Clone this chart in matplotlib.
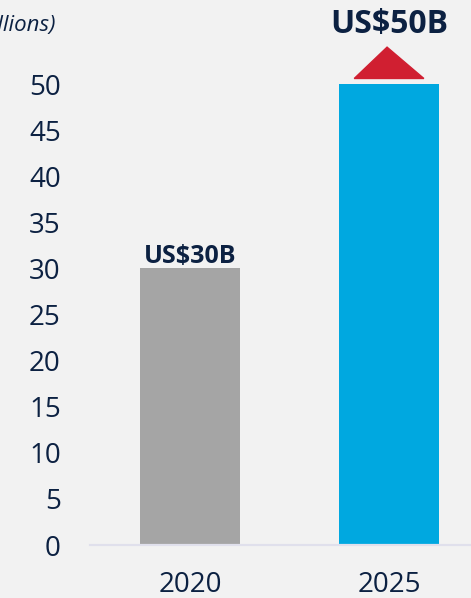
import matplotlib.pyplot as plt
from matplotlib.patches import Polygon

plt.rcParams['font.family'] = ['Open Sans', 'DejaVu Sans']

years = ["2020", "2025"]
values = [30, 50]
labels = ["US$30B", "US$50B"]
bar_colors = ["#a5a5a5", "#00a8e0"]
yticks = list(range(0, 55, 5))

navy = "#0c2142"
bg = "#f2f2f2"

fig = plt.figure(figsize=(4.71, 5.98), dpi=100, facecolor=bg)
ax = fig.add_axes([0.1911, 0.0886, 0.809, 0.7709], facecolor=bg)

x = list(range(len(years)))
bars = ax.bar(x, values, width=0.5, color=bar_colors, zorder=2)

ax.set_xlim(-0.5025, 1.412)
ax.set_ylim(0, 50)
ax.set_yticks(yticks)
ax.set_xticks(x)
ax.set_xticklabels(years)
ax.tick_params(axis="y", length=0, pad=21, labelsize=20, labelcolor=navy)
ax.tick_params(axis="x", length=0, pad=19, labelsize=20, labelcolor=navy)

for side in ["top", "right", "left"]:
    ax.spines[side].set_visible(False)
ax.spines["bottom"].set_color("#e0e0ec")
ax.spines["bottom"].set_linewidth(1.6)
ax.spines["bottom"].set_zorder(3)

# value labels
ax.text(x[0], values[0] + 0.55, labels[0], ha="center", va="baseline",
        fontsize=18, fontweight="bold", color=navy)

# growth arrow above the 2025 bar
tri_w = 0.35
tri = Polygon([(x[1] - tri_w / 2, values[1] + 0.6),
               (x[1] + tri_w / 2, values[1] + 0.6),
               (x[1] - 0.01, values[1] + 4.0)],
              closed=True, color="#d01f31", clip_on=False, zorder=3)
ax.add_patch(tri)
ax.text(x[1], values[1] + 5.5, labels[1], ha="center", va="baseline",
        fontsize=23, fontweight="bold", color=navy, clip_on=False)

fig.text(55 / 471, 1 - 25 / 598, "(US$ billions)", ha="right", va="center",
         fontsize=16, style="italic", color=navy)

fig.savefig("out.png", dpi=100, facecolor=bg)
